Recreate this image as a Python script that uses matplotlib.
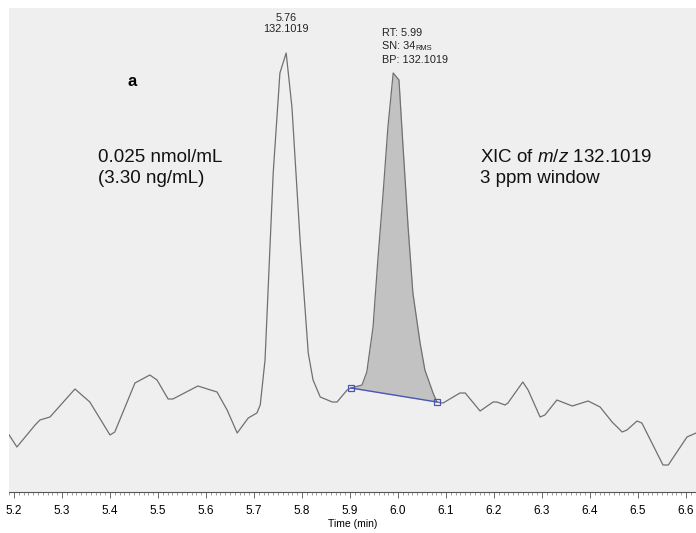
import matplotlib
matplotlib.use("Agg")
import matplotlib.pyplot as plt
from matplotlib.ticker import MultipleLocator
import numpy as np

# XIC trace (time in min, intensity in arbitrary units)
time_min = [5.190, 5.206, 5.244, 5.254, 5.275, 5.327, 5.358, 5.400, 5.410, 5.452,
            5.483, 5.498, 5.521, 5.531, 5.583, 5.623, 5.644, 5.665, 5.688, 5.706,
            5.713, 5.723, 5.740, 5.754, 5.767, 5.779, 5.796, 5.813, 5.823, 5.838,
            5.863, 5.873, 5.894, 5.902, 5.925, 5.935, 5.948, 5.958, 5.969, 5.979,
            5.990, 6.002, 6.010, 6.021, 6.031, 6.046, 6.056, 6.073, 6.081, 6.094,
            6.129, 6.140, 6.171, 6.198, 6.206, 6.223, 6.229, 6.260, 6.271, 6.296,
            6.306, 6.331, 6.363, 6.396, 6.421, 6.446, 6.467, 6.477, 6.498, 6.508,
            6.529, 6.552, 6.563, 6.602, 6.621]
intensity = [57, 45, 67, 72, 75, 103, 90, 57, 60, 109,
             117, 112, 93, 93, 106, 100, 82, 59, 74, 79,
             87, 132, 319, 419, 439, 385, 252, 139, 112, 95,
             90, 90, 102, 104, 107, 120, 165, 232, 299, 365,
             419, 412, 349, 265, 199, 149, 122, 99, 90, 89,
             99, 99, 81, 90, 90, 87, 89, 110, 102, 75,
             77, 92, 86, 91, 85, 70, 60, 62, 71, 69,
             49, 27, 27, 55, 59]

# integrated peak limits (baseline end points)
peak_start, peak_end = 5.902, 6.081

tick_labels = ["5.2", "5.3", "5.4", "5.5", "5.6", "5.7", "5.8", "5.9",
               "6.0", "6.1", "6.2", "6.3", "6.4", "6.5", "6.6"]

narrow = ["Liberation Sans Narrow", "Liberation Sans", "DejaVu Sans"]
sans = ["Liberation Sans", "DejaVu Sans"]

fig = plt.figure(figsize=(6.96, 5.33), dpi=100, facecolor="white")
ax = fig.add_axes([9 / 696, 1 - 492 / 533, 1 - 9 / 696, (492 - 8) / 533])
ax.set_facecolor("#f0eff0")

t = np.array(time_min)
y = np.array(intensity, dtype=float)

# shaded peak area above the straight baseline
i0 = time_min.index(peak_start)
i1 = time_min.index(peak_end)
tp = t[i0:i1 + 1]
yp = y[i0:i1 + 1]
base = np.interp(tp, [peak_start, peak_end], [y[i0], y[i1]])
ax.fill_between(tp, base, yp, color="#c2c2c2", lw=0, zorder=1)

ax.plot(t, y, color="#707070", lw=0.9, zorder=2)
ax.plot([peak_start, peak_end], [y[i0], y[i1]], color="#4a55b8", lw=1.0, zorder=3)
ax.plot([peak_start, peak_end], [y[i0], y[i1]], ls="none", marker="s", ms=4.5,
        mfc="none", mec="#4a55b8", mew=0.9, zorder=4)

ax.set_xlim(5.1896, 6.6208)
ax.set_ylim(0, 484)

for s in ["top", "left", "right"]:
    ax.spines[s].set_visible(False)
ax.spines["bottom"].set_color("#555555")
ax.spines["bottom"].set_linewidth(0.8)
ax.set_yticks([])
ax.xaxis.set_minor_locator(MultipleLocator(0.01))
ax.set_xticks(np.arange(5.2, 6.61, 0.1))
ax.set_xticklabels(tick_labels, fontfamily=narrow, fontsize=8.5)
ax.tick_params(axis="x", which="major", length=4, width=0.6, color="#555555", pad=5)
ax.tick_params(axis="x", which="minor", length=2, width=0.5, color="#777777")
ax.set_xlabel("Time (min)", fontfamily=narrow, fontsize=7.5, labelpad=2)

# peak labels
ax.text(5.767, 458, "5.76\n132.1019", ha="center", va="bottom", fontsize=7.8,
        fontfamily=narrow, linespacing=1.1, color="#222222")
ax.text(5.966, 459, "RT: 5.99", ha="left", va="center", fontsize=7.8,
        fontfamily=narrow, color="#222222")
sn = ax.text(5.966, 446, "SN: 34", ha="left", va="center", fontsize=7.8,
             fontfamily=narrow, color="#222222")
ax.text(5.966, 432, "BP: 132.1019", ha="left", va="center", fontsize=7.8,
        fontfamily=narrow, color="#222222")
fig.canvas.draw()
bb = sn.get_window_extent()
xr, _ = ax.transData.inverted().transform((bb.x1, bb.y0))
ax.text(xr, 443.5, "RMS", ha="left", va="center", fontsize=5.4,
        fontfamily=narrow, color="#222222")

# annotations
ax.text(5.446, 410, "a", ha="center", va="center", fontsize=12,
        fontweight="bold", fontfamily=sans)
ax.text(5.376, 324, "0.025 nmol/mL\n(3.30 ng/mL)", ha="left", va="center",
        fontsize=13.5, fontfamily=sans, linespacing=1.28, color="#111111")

plt.rcParams["mathtext.fontset"] = "custom"
plt.rcParams["mathtext.it"] = "Liberation Sans:italic"
plt.rcParams["mathtext.rm"] = "Liberation Sans"
ax.text(6.170, 324, "XIC of $\\it{m/z}$ 132.1019\n3 ppm window", ha="left",
        va="center", fontsize=13.5, fontfamily=sans, linespacing=1.28,
        color="#111111")

fig.savefig("out.png", dpi=100, facecolor="white")
